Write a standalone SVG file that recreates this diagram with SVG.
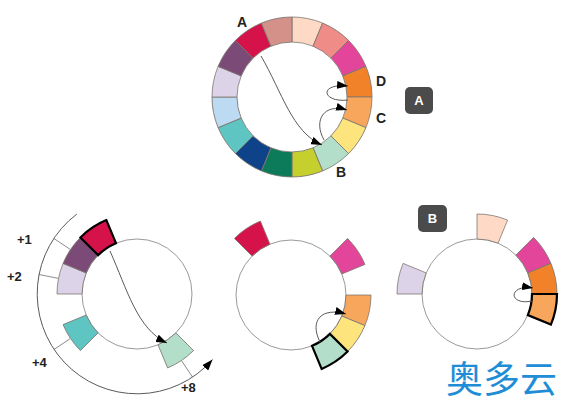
<svg xmlns="http://www.w3.org/2000/svg" width="573" height="410" viewBox="0 0 573 410">
<style>
.seg{stroke:#7d7670;stroke-width:0.8}
.bold{stroke:#000;stroke-width:2.2;stroke-linejoin:miter}
.ring{fill:none;stroke:#9a9a9a;stroke-width:1}
.conn{fill:none;stroke:#5a5a5a;stroke-width:1}
.lbl{font-family:"Liberation Sans",Arial,sans-serif;font-weight:bold;font-size:14px;fill:#222}
.plbl{font-family:"Liberation Sans",Arial,sans-serif;font-weight:bold;font-size:13px;fill:#222}
.badge{fill:#4b4b4b}
.btxt{font-family:"Liberation Sans",Arial,sans-serif;font-weight:bold;font-size:13px;fill:#fff;text-anchor:middle}
</style>
<defs>
<path id="seg" d="M0,-80 A80,80 0 0 1 30.615,-73.910 L21.048,-50.813 A55,55 0 0 0 0,-55 Z"/>
<marker id="ah" markerUnits="userSpaceOnUse" markerWidth="12" markerHeight="8" refX="11" refY="4" orient="auto">
<path d="M0,0 L11,4 L0,8 Z" fill="#000"/>
</marker>
</defs>
<rect width="573" height="410" fill="#fff"/>

<g id="wheel-top" transform="translate(292,97)">
<use href="#seg" class="seg" fill="#FDD9C6" transform="rotate(0)"/>
<use href="#seg" class="seg" fill="#F08C87" transform="rotate(22.5)"/>
<use href="#seg" class="seg" fill="#E3459A" transform="rotate(45)"/>
<use href="#seg" class="seg" fill="#F2822A" transform="rotate(67.5)"/>
<use href="#seg" class="seg" fill="#F8A65B" transform="rotate(90)"/>
<use href="#seg" class="seg" fill="#FDE47C" transform="rotate(112.5)"/>
<use href="#seg" class="seg" fill="#B3DEC9" transform="rotate(135)"/>
<use href="#seg" class="seg" fill="#C5D02F" transform="rotate(157.5)"/>
<use href="#seg" class="seg" fill="#0C7B59" transform="rotate(180)"/>
<use href="#seg" class="seg" fill="#0E4289" transform="rotate(202.5)"/>
<use href="#seg" class="seg" fill="#5FC5C2" transform="rotate(225)"/>
<use href="#seg" class="seg" fill="#BCDAF1" transform="rotate(247.5)"/>
<use href="#seg" class="seg" fill="#DCD3E8" transform="rotate(270)"/>
<use href="#seg" class="seg" fill="#7C4A76" transform="rotate(292.5)"/>
<use href="#seg" class="seg" fill="#D5124A" transform="rotate(315)"/>
<use href="#seg" class="seg" fill="#D39189" transform="rotate(337.5)"/>
</g>
<g id="labels-top">
<text class="lbl" x="237" y="27">A</text>
<text class="lbl" x="376" y="86">D</text>
<text class="lbl" x="376" y="123">C</text>
<text class="lbl" x="336" y="177">B</text>
</g>
<g id="badge-a">
<rect class="badge" x="405" y="87" width="28" height="27" rx="5"/>
<text class="btxt" x="419" y="105">A</text>
</g>

<g id="wheel-left" transform="translate(137,294)">
<circle class="ring" r="55"/>
<use href="#seg" class="seg" fill="#DCD3E8" transform="rotate(270)"/>
<use href="#seg" class="seg" fill="#7C4A76" transform="rotate(292.5)"/>
<use href="#seg" class="seg" fill="#5FC5C2" transform="rotate(225)"/>
<use href="#seg" class="seg" fill="#B3DEC9" transform="rotate(135)"/>
<use href="#seg" class="bold" fill="#D5124A" transform="rotate(315)"/>
<g stroke="#8a8a8a" stroke-width="0.9">
<line x1="0" y1="-80" x2="0" y2="-100" transform="rotate(303.75)"/>
<line x1="0" y1="-80" x2="0" y2="-100" transform="rotate(281.25)"/>
<line x1="0" y1="-80" x2="0" y2="-100" transform="rotate(236.25)"/>
<line x1="0" y1="-80" x2="0" y2="-100" transform="rotate(146.25)"/>
</g>
</g>
<g id="labels-left">
<text class="plbl" x="17" y="244">+1</text>
<text class="plbl" x="7" y="281">+2</text>
<text class="plbl" x="32" y="367">+4</text>
<text class="plbl" x="181" y="392">+8</text>
</g>

<g id="wheel-mid" transform="translate(291,295)">
<circle class="ring" r="55"/>
<use href="#seg" class="seg" fill="#D5124A" transform="rotate(315)"/>
<use href="#seg" class="seg" fill="#E3459A" transform="rotate(45)"/>
<use href="#seg" class="seg" fill="#F8A65B" transform="rotate(90)"/>
<use href="#seg" class="seg" fill="#FDE47C" transform="rotate(112.5)"/>
<use href="#seg" class="bold" fill="#B3DEC9" transform="rotate(135)"/>
</g>

<g id="wheel-right" transform="translate(477,294)">
<circle class="ring" r="55"/>
<use href="#seg" class="seg" fill="#FDD9C6" transform="rotate(0)"/>
<use href="#seg" class="seg" fill="#E3459A" transform="rotate(45)"/>
<use href="#seg" class="seg" fill="#F2822A" transform="rotate(67.5)"/>
<use href="#seg" class="seg" fill="#DCD3E8" transform="rotate(270)"/>
<use href="#seg" class="bold" fill="#F8A65B" transform="rotate(90)"/>
</g>
<g id="badge-b">
<rect class="badge" x="418" y="205" width="29" height="27" rx="5"/>
<text class="btxt" x="432.5" y="223">B</text>
</g>

<g id="connectors">
<path class="conn" d="M261,56 C282,92 292,132 322,145" marker-end="url(#ah)"/>
<path class="conn" d="M324,140 C313,120 324,103 347,110" marker-end="url(#ah)"/>
<path class="conn" d="M348,100 C322,103 318,83 348,86" marker-end="url(#ah)"/>
<path class="conn" d="M110,251 C127,289 137,329 167,343" marker-end="url(#ah)"/>
<path class="conn" stroke="#8a8a8a" d="M76.8,214.1 A100,100 0 1 0 212.5,359.6" marker-end="url(#ah)"/>
<path class="conn" d="M320,342 C309,320 322,307 346,314" marker-end="url(#ah)"/>
<path class="conn" d="M532,301 C508,306 508,284 533,288" marker-end="url(#ah)"/>
</g>

<text id="watermark" x="446" y="393" font-family="'Noto Sans CJK SC', sans-serif" font-size="37" fill="#1E8DD6">奥多云</text>
</svg>
